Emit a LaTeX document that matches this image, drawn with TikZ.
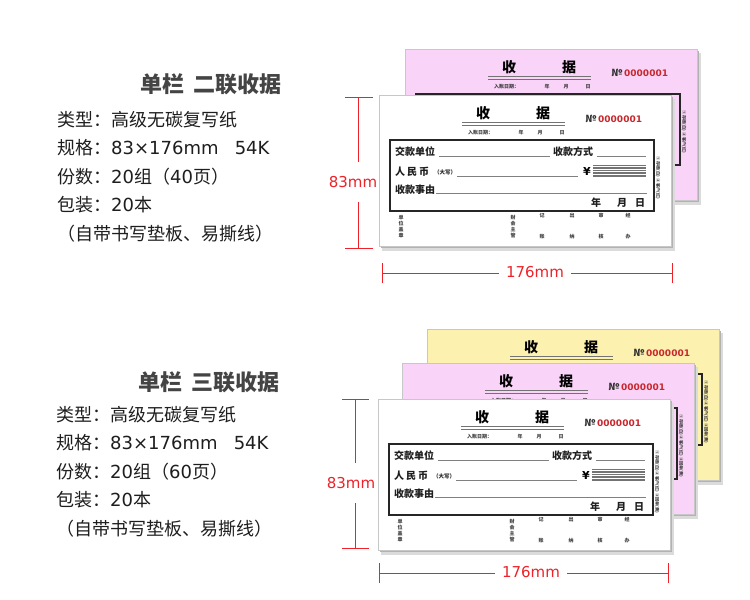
\documentclass[tikz,border=0pt]{standalone}
\usepackage{fontspec}
\newfontfamily\cjk{Noto Sans CJK SC}
\newfontfamily\lat{DejaVu Sans}
\usetikzlibrary{positioning}

\definecolor{sheetpink}{RGB}{250,212,248}
\definecolor{sheetyellow}{RGB}{253,241,176}
\definecolor{dimred}{RGB}{238,34,40}
\definecolor{numred}{RGB}{200,40,45}
\definecolor{titlegray}{RGB}{68,68,68}
\definecolor{textdark}{RGB}{30,30,30}

\tikzset{
	heading/.style={font=\cjk\bfseries\fontsize{22}{22}\selectfont, text=titlegray, inner sep=0pt},
	info/.style={anchor=west, font=\cjk\fontsize{18}{18}\selectfont, text=textdark, inner sep=0pt},
	dimline/.style={draw=dimred, line width=0.8pt},
	dimlabel/.style={font=\lat\fontsize{15}{15}\selectfont, text=dimred, inner sep=0pt},
	sheet/.style={draw=black!22, line width=0.4pt},
	rcpttitle/.style={font=\cjk\bfseries\fontsize{14}{14}\selectfont, inner sep=0pt},
	rcptlabel/.style={anchor=west, font=\cjk\bfseries\fontsize{10}{10}\selectfont, text=black!88, inner sep=0pt},
	rcpttiny/.style={font=\cjk\bfseries\fontsize{5}{6}\selectfont, text=black!75, inner sep=0pt, align=center},
	rcptline/.style={draw=black!50, line width=0.9pt}
}

% one receipt sheet: #1 name, #2 top left corner, #3 paper colour, #4 copy text at the side
\newcommand{\drawreceipt}[4]{%
	\begin{scope}[shift={#2}]
		\fill[black!14] (3,4) rectangle (296,156);
		\fill[black!30] (2,2) rectangle (294,153);
		\filldraw[sheet, fill=#3] (0,0) rectangle (292,151);

		\node[rcpttitle] (#1-shou) at (104,18) {收};
		\node[rcpttitle] (#1-ju) at (164,18) {据};
		\draw[black!55, line width=1.6pt] (83,27.5) -- (186,27.5);
		\draw[black!55, line width=0.6pt] (83,30.5) -- (186,30.5);

		\node[font=\cjk\bfseries\fontsize{10}{10}\selectfont, inner sep=0pt, text=black!80] (#1-no) at (212,24) {№};
		\node[anchor=west, font=\lat\bfseries\fontsize{9}{9}\selectfont, inner sep=0pt, text=numred] (#1-num) at (219,24) {0000001};

		\node[rcpttiny, anchor=west] (#1-date) at (89,38) {入账日期：};
		\node[rcpttiny] (#1-dy) at (142,38) {年};
		\node[rcpttiny] (#1-dm) at (161,38) {月};
		\node[rcpttiny] (#1-dd) at (183,38) {日};

		\draw[black!85, line width=1.2pt] (11,45) rectangle (275,116);

		\node[rcpttiny, rotate=-90, font=\cjk\bfseries\fontsize{4.2}{5}\selectfont] (#1-copies) at (279,83) {#4};
	\end{scope}}

% the rows of the front sheet: #1 name, #2 top left corner
\newcommand{\drawreceiptbody}[2]{%
	\begin{scope}[shift={#2}]
		\node[rcptlabel] (#1-payer) at (16,57) {交款单位};
		\draw[rcptline] (60,61.5) -- (171,61.5);
		\node[rcptlabel] (#1-method) at (174,57) {收款方式};
		\draw[rcptline] (218,61.5) -- (267,61.5);

		\node[rcptlabel] (#1-rmb) at (16,77) {人\hspace{2pt}民\hspace{2pt}币};
		\node[anchor=west, font=\cjk\bfseries\fontsize{5.5}{6}\selectfont, inner sep=0pt, text=black!85] (#1-upper) at (55,77.5) {（大写）};
		\draw[rcptline] (78,81) -- (199,81);
		\node[font=\lat\bfseries\fontsize{11}{11}\selectfont, inner sep=0pt] (#1-yen) at (208,76.5) {¥};
		\foreach \k in {0,...,7}
			\draw[black!55, line width=0.7pt] (214,70.5+1.6*\k) -- (267,70.5+1.6*\k);

		\node[rcptlabel] (#1-reason) at (16,95) {收款事由};
		\draw[rcptline] (57,98) -- (268,98);

		\node[rcptlabel, anchor=center] (#1-y) at (217,108) {年};
		\node[rcptlabel, anchor=center] (#1-m) at (243,108) {月};
		\node[rcptlabel, anchor=center] (#1-d) at (261,108) {日};

		\node[rcpttiny] (#1-seal) at (22,131.5) {单\\位\\盖\\章};
		\node[rcpttiny] (#1-chief) at (134,131.5) {财\\会\\主\\管};
		\node[rcpttiny] (#1-ji) at (163,121) {记};
		\node[rcpttiny] (#1-zhang) at (163,142) {账};
		\node[rcpttiny] (#1-chu) at (193,121) {出};
		\node[rcpttiny] (#1-na) at (193,142) {纳};
		\node[rcpttiny] (#1-shen) at (222,121) {审};
		\node[rcpttiny] (#1-he) at (222,142) {核};
		\node[rcpttiny] (#1-jing) at (249,121) {经};
		\node[rcpttiny] (#1-ban) at (249,142) {办};
	\end{scope}}

\begin{document}
\begin{tikzpicture}[x=1pt, y=-1pt]

	\path[use as bounding box, fill=white] (0,0) rectangle (750,600);

	% single column, two copies
	\node[heading] (two-title) at (211,84) {单栏\hspace{0.45em}二联收据};
	\node[info] (two-type) at (57,120) {类型：高级无碳复写纸};
	\node[info] (two-size) at (57,148) {规格：{\lat 83×176mm\hspace{0.9em}54K}};
	\node[info] (two-sets) at (57,177) {份数：{\lat 20}组（{\lat 40}页）};
	\node[info] (two-pack) at (57,205) {包装：{\lat 20}本};
	\node[info] (two-note) at (57,234) {（自带书写垫板、易撕线）};

	\drawreceipt{two-pink}{(405,49)}{sheetpink}{①存根(白)\ \ ②客户(红)}
	\drawreceipt{two-white}{(379,95)}{white}{①存根(白)\ \ ②客户(红)}
	\drawreceiptbody{two-white}{(379,95)}

	\coordinate (two-vtop) at (358,97);
	\coordinate (two-vbot) at (358,248);
	\node[dimlabel, inner ysep=14pt] (two-vlabel) at (353,182) {83mm};
	\draw[dimline] (two-vtop) -- (two-vtop |- two-vlabel.north);
	\draw[dimline] (two-vbot) -- (two-vbot |- two-vlabel.south);
	\draw[dimline] (two-vtop) ++(-13,0) -- ++(28,0);
	\draw[dimline] (two-vbot) ++(-13,0) -- ++(28,0);

	\coordinate (two-hleft) at (382,273);
	\coordinate (two-hright) at (672,273);
	\node[dimlabel, inner xsep=7pt] (two-hlabel) at (535,272.5) {176mm};
	\draw[dimline] (two-hleft) -- (two-hleft -| two-hlabel.west);
	\draw[dimline] (two-hright) -- (two-hright -| two-hlabel.east);
	\draw[dimline] (two-hleft) ++(0,-10) -- ++(0,20);
	\draw[dimline] (two-hright) ++(0,-10) -- ++(0,20);

	% single column, three copies
	\node[heading] (three-title) at (209,382) {单栏\hspace{0.45em}三联收据};
	\node[info] (three-type) at (56,415) {类型：高级无碳复写纸};
	\node[info] (three-size) at (56,443) {规格：{\lat 83×176mm\hspace{0.9em}54K}};
	\node[info] (three-sets) at (56,472) {份数：{\lat 20}组（{\lat 60}页）};
	\node[info] (three-pack) at (56,500) {包装：{\lat 20}本};
	\node[info] (three-note) at (56,529) {（自带书写垫板、易撕线）};

	\drawreceipt{three-yellow}{(427,329)}{sheetyellow}{①存根(白)\ ②客户(红)\ ③回单(黄)}
	\drawreceipt{three-pink}{(402,363)}{sheetpink}{①存根(白)\ ②客户(红)\ ③回单(黄)}
	\drawreceipt{three-white}{(378,399)}{white}{①存根(白)\ ②客户(红)\ ③回单(黄)}
	\drawreceiptbody{three-white}{(378,399)}

	\coordinate (three-vtop) at (355,399);
	\coordinate (three-vbot) at (355,548);
	\node[dimlabel, inner ysep=14pt] (three-vlabel) at (351,483) {83mm};
	\draw[dimline] (three-vtop) -- (three-vtop |- three-vlabel.north);
	\draw[dimline] (three-vbot) -- (three-vbot |- three-vlabel.south);
	\draw[dimline] (three-vtop) ++(-13,0) -- ++(27,0);
	\draw[dimline] (three-vbot) ++(-13,0) -- ++(27,0);

	\coordinate (three-hleft) at (379,573);
	\coordinate (three-hright) at (668,573);
	\node[dimlabel, inner xsep=7pt] (three-hlabel) at (531,572.5) {176mm};
	\draw[dimline] (three-hleft) -- (three-hleft -| three-hlabel.west);
	\draw[dimline] (three-hright) -- (three-hright -| three-hlabel.east);
	\draw[dimline] (three-hleft) ++(0,-10) -- ++(0,20);
	\draw[dimline] (three-hright) ++(0,-10) -- ++(0,20);

\end{tikzpicture}
\end{document}
